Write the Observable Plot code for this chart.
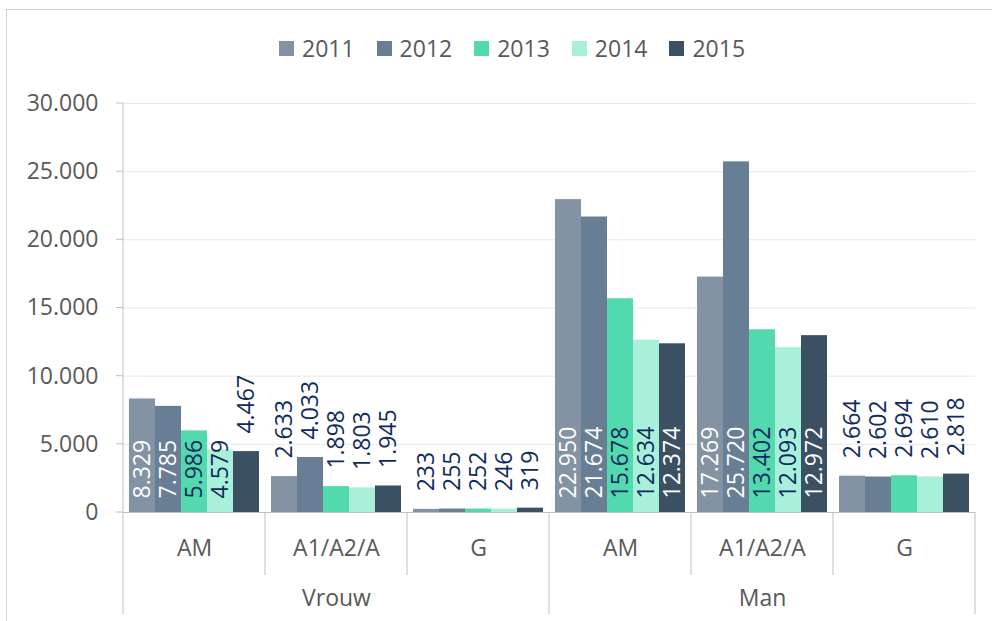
<!DOCTYPE html>
<html>
<head>
<meta charset="utf-8">
<script src="https://cdn.jsdelivr.net/npm/d3@7"></script>
<script src="https://cdn.jsdelivr.net/npm/@observablehq/plot@0.6"></script>
<style>
  html, body { margin: 0; padding: 0; background: #fff; }
  #wrap { position: relative; width: 992px; height: 621px; overflow: hidden; font-family: "Open Sans", sans-serif; }
  #frame { position: absolute; left: 6px; top: 9px; width: 1000px; height: 700px; border-top: 1px solid #d0d0d0; border-left: 1px solid #d0d0d0; }
  #legend { position: absolute; top: 32px; left: 279px; display: flex; gap: 22px; font-size: 23px; color: #595959; }
  #legend .item { display: flex; align-items: center; gap: 8px; }
  #legend .sw { width: 15px; height: 15px; }
  #chart { position: absolute; left: 0; top: 0; }
</style>
</head>
<body>
<div id="wrap">
  <div id="frame"></div>
  <div id="chart"></div>
  <div id="legend"></div>
</div>
<script>
const genders = ["Vrouw", "Man"];
const subcats = ["AM", "A1/A2/A", "G"];
const years = ["2011", "2012", "2013", "2014", "2015"];
const colors = ["#8493a3", "#687e94", "#52d9ae", "#a8f0da", "#3b5063"];

const vrouwAM = [8329, 7785, 5986, 4579, 4467];
const vrouwA = [2633, 4033, 1898, 1803, 1945];
const vrouwG = [233, 255, 252, 246, 319];
const manAM = [22950, 21674, 15678, 12634, 12374];
const manA = [17269, 25720, 13402, 12093, 12972];
const manG = [2664, 2602, 2694, 2610, 2818];

const yTicks = [0, 5000, 10000, 15000, 20000, 25000, 30000];

const series = {
  "Vrouw|AM": vrouwAM, "Vrouw|A1/A2/A": vrouwA, "Vrouw|G": vrouwG,
  "Man|AM": manAM, "Man|A1/A2/A": manA, "Man|G": manG
};
const keys = [];
const subData = [];
const data = [];
for (const g of genders) for (const s of subcats) {
  const key = g + "|" + s;
  keys.push(key);
  subData.push({key, sub: s});
  series[key].forEach((v, i) => data.push({key, year: years[i], value: v}));
}
const mainData = genders.map(g => ({key: g + "|A1/A2/A", label: g}));

const nl = d3.formatLocale({decimal: ",", thousands: ".", grouping: [3], currency: ["", ""]});
const fmt = nl.format(",");

const insideOK = d => d.value >= 4500;
const lightText = new Set(["2011", "2012", "2015"]);
const inside = data.filter(insideOK);
const outside = data.filter(d => !insideOK(d));

const plot = Plot.plot({
  width: 992,
  height: 621,
  marginTop: 103,
  marginBottom: 109,
  marginLeft: 123,
  marginRight: 17,
  style: {fontFamily: "Open Sans, sans-serif", fontSize: "23px", background: "transparent"},
  fx: {domain: keys, padding: 0, axis: null, label: null},
  x: {domain: years, paddingInner: 0, paddingOuter: 0.23, axis: null, label: null},
  y: {domain: [0, 30000], axis: null, label: null},
  color: {domain: years, range: colors},
  marks: [
    Plot.gridY(yTicks, {stroke: "#e8e8e8", strokeOpacity: 1}),
    Plot.axisY(yTicks, {tickSize: 0, tickPadding: 25, tickFormat: fmt, fontSize: 23, color: "#595959", label: null}),
    Plot.barY(data, {fx: "key", x: "year", y: "value", fill: "year"}),
    Plot.ruleY([0], {stroke: "#bfbfbf"}),
    Plot.text(inside, {fx: "key", x: "year", y: d => 0, text: d => fmt(d.value), rotate: -90, textAnchor: "start", dy: -14, fontSize: 23,
      fill: d => lightText.has(d.year) ? "#ffffff" : "#0f2a5e"}),
    Plot.text(outside, {fx: "key", x: "year", y: "value", text: d => fmt(d.value), rotate: -90, textAnchor: "start", dy: -18, fontSize: 23, fill: "#0f2a5e"}),
    Plot.text(subData, {fx: "key", frameAnchor: "bottom", dy: 43, text: "sub", fontSize: 23, fill: "#595959"}),
    Plot.text(mainData, {fx: "key", frameAnchor: "bottom", dy: 93, text: "label", fontSize: 23, fill: "#595959"})
  ]
});
document.getElementById("chart").appendChild(plot);

// category separators and left axis line, derived from the plot's scales
const fxS = plot.scale("fx");
const yS = plot.scale("y");
const y0 = yS.apply(0);
const svg = d3.select(plot);
const lines = svg.append("g").attr("stroke", "#bfbfbf").attr("stroke-width", 1);
const edges = keys.map(k => fxS.apply(k));
edges.push(fxS.apply(keys[keys.length - 1]) + fxS.bandwidth);
edges.forEach((x, i) => {
  const major = i % 3 === 0;
  lines.append("line").attr("x1", x).attr("x2", x).attr("y1", y0).attr("y2", y0 + (major ? 102 : 63));
});
const xl = edges[0];
lines.append("line").attr("x1", xl).attr("x2", xl).attr("y1", yS.apply(30000)).attr("y2", y0);
yTicks.forEach(t => {
  lines.append("line").attr("x1", xl - 7).attr("x2", xl).attr("y1", yS.apply(t)).attr("y2", yS.apply(t));
});

// legend
const leg = d3.select("#legend");
years.forEach((yr, i) => {
  const it = leg.append("div").attr("class", "item");
  it.append("div").attr("class", "sw").style("background", colors[i]);
  it.append("span").text(yr);
});
</script>
</body>
</html>
